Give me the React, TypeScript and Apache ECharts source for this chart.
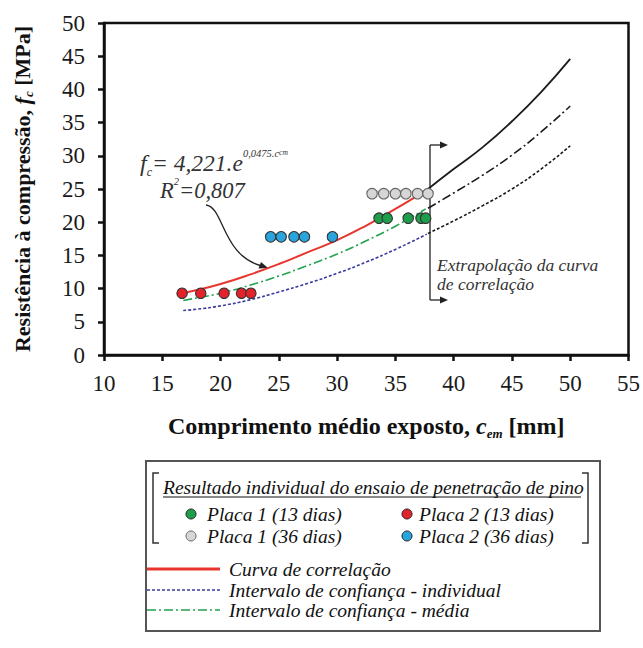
import React, { useEffect, useRef } from 'react';
import * as echarts from 'echarts';

// ---- Data ----
const placa1_13: number[][] = [[33.6, 20.6], [34.3, 20.6], [36.1, 20.6], [37.2, 20.6], [37.6, 20.6]];
const placa2_13: number[][] = [[16.7, 9.3], [18.3, 9.3], [20.3, 9.3], [21.8, 9.3], [22.6, 9.3]];
const placa1_36: number[][] = [[33.0, 24.3], [34.0, 24.3], [35.0, 24.3], [35.9, 24.3], [36.9, 24.3], [37.8, 24.3]];
const placa2_36: number[][] = [[24.3, 17.8], [25.2, 17.8], [26.3, 17.8], [27.2, 17.8], [29.6, 17.8]];

const curvaCorrelacao: number[][] = [[16.6, 9.3], [18, 9.8], [20, 10.7], [22.5, 12.1], [25, 13.7], [27.5, 15.5], [30, 17.3], [32.5, 19.5], [35, 22.0], [36.8, 23.9]];
const curvaExtrap: number[][] = [[37.8, 25.0], [40, 28.0], [42.5, 31.3], [45, 35.2], [47.5, 39.6], [50, 44.6]];
const icMedia: number[][] = [[16.8, 8.2], [18, 8.6], [20, 9.3], [22.5, 10.5], [25, 11.9], [27.5, 13.5], [30, 15.2], [32.5, 17.2], [35, 19.4], [37.6, 22.0]];
const icMediaExtrap: number[][] = [[37.8, 22.1], [40, 24.4], [42.5, 27.1], [45, 30.1], [47.5, 33.6], [50, 37.5]];
const icIndividual: number[][] = [[16.8, 6.7], [18, 6.9], [20, 7.4], [22.5, 8.3], [25, 9.5], [27.5, 10.8], [30, 12.3], [32.5, 14.0], [35, 15.9], [37.7, 18.2]];
const icIndividualExtrap: number[][] = [[37.8, 18.3], [40, 20.2], [42.5, 22.5], [45, 25.0], [47.5, 28.0], [50, 31.5]];

const legendPoints = ['Placa 1 (13 dias)', 'Placa 2 (13 dias)', 'Placa 1 (36 dias)', 'Placa 2 (36 dias)'];
const legendLines = ['Curva de correlação', 'Intervalo de confiança - individual', 'Intervalo de confiança - média'];

const SERIF = 'Liberation Serif';
const C_GREEN = '#1e9e4a';
const C_RED = '#e3232b';
const C_GRAY = '#d6d6d6';
const C_BLUE = '#2aa4dc';
const C_REDLINE = '#e8362f';
const C_GREENLINE = '#23a24f';
const C_BLUELINE = '#3a3aa0';
const C_BLACK = '#1a1a1a';

const DASHDOT = [9, 3, 2, 3];
const DOTTED = [3, 2];

export default function App() {
  const ref = useRef<HTMLDivElement>(null);
  useEffect(() => {
    if (!ref.current) return;
    const chart = echarts.init(ref.current, undefined, { renderer: 'svg' });

    const lineSeries = (data: number[][], color: string, type: any, width: number) => ({
      type: 'line',
      data,
      smooth: true,
      symbol: 'none',
      showSymbol: false,
      silent: true,
      lineStyle: { color, width, type },
      z: 2,
    });
    const scatter = (name: string, data: number[][], color: string, border: string) => ({
      type: 'scatter',
      name,
      data,
      symbol: 'circle',
      symbolSize: 10.5,
      itemStyle: { color, borderColor: border, borderWidth: 1.1, opacity: 1 },
      z: 5,
    });

    const legText = (x: number, y: number, text: string, size = 19.5) => ({
      type: 'text',
      style: { x, y, text, fontFamily: SERIF, fontStyle: 'italic', fontSize: size, fill: '#111', textVerticalAlign: 'middle' },
    });

    const LX = 146, LR = 600;
    const legendG: any[] = [
      { type: 'rect', shape: { x: LX, y: 461, width: LR - LX, height: 170 }, style: { fill: '#fff', stroke: '#555', lineWidth: 2 } },
      { type: 'polyline', shape: { points: [[159, 473], [153, 473], [153, 543], [159, 543]] }, style: { stroke: '#333', lineWidth: 1.5, fill: null } },
      { type: 'polyline', shape: { points: [[582, 473], [588, 473], [588, 543], [582, 543]] }, style: { stroke: '#333', lineWidth: 1.5, fill: null } },
      legText(163, 487, 'Resultado individual do ensaio de penetração de pino'),
      { type: 'line', shape: { x1: 163, y1: 497, x2: 581, y2: 497 }, style: { stroke: '#111', lineWidth: 1 } },
      { type: 'circle', shape: { cx: 191, cy: 514, r: 5 }, style: { fill: C_GREEN, stroke: '#222', lineWidth: 1 } },
      legText(207, 514, legendPoints[0]),
      { type: 'circle', shape: { cx: 407, cy: 514, r: 5 }, style: { fill: C_RED, stroke: '#222', lineWidth: 1 } },
      legText(419, 514, legendPoints[1]),
      { type: 'circle', shape: { cx: 191, cy: 536, r: 5 }, style: { fill: C_GRAY, stroke: '#666', lineWidth: 1 } },
      legText(207, 536, legendPoints[2]),
      { type: 'circle', shape: { cx: 407, cy: 536, r: 5 }, style: { fill: C_BLUE, stroke: '#222', lineWidth: 1 } },
      legText(419, 536, legendPoints[3]),
      { type: 'line', shape: { x1: LX + 1, y1: 569, x2: 220, y2: 569 }, style: { stroke: C_REDLINE, lineWidth: 3 } },
      legText(229, 569, legendLines[0]),
      { type: 'line', shape: { x1: LX + 1, y1: 590, x2: 220, y2: 590 }, style: { stroke: C_BLUELINE, lineWidth: 1.5, lineDash: DOTTED } },
      legText(229, 590, legendLines[1]),
      { type: 'line', shape: { x1: LX + 1, y1: 610, x2: 220, y2: 610 }, style: { stroke: C_GREENLINE, lineWidth: 1.5, lineDash: DASHDOT } },
      legText(229, 610, legendLines[2]),
    ];

    const ri = (size: number, extra: any = {}) => ({ fontFamily: SERIF, fontStyle: 'italic', fontSize: size, fill: '#333', ...extra });
    const annotG: any[] = [
      {
        type: 'text',
        style: {
          x: 140, y: 163, textVerticalAlign: 'middle',
          text: '{f|f}{sub|c}{m|= 4,221.e}{sup|0,0475.c}{supsub|cm}',
          fill: '#333', fontFamily: SERIF,
          rich: {
            f: ri(24, { lineHeight: 30 }),
            sub: ri(12, { verticalAlign: 'bottom', lineHeight: 14 }),
            m: ri(23.5, { lineHeight: 30 }),
            sup: ri(10.5, { verticalAlign: 'top', lineHeight: 12 }),
            supsub: ri(7.5, { verticalAlign: 'top', lineHeight: 22 }),
          },
        },
      },
      {
        type: 'text',
        style: {
          x: 160, y: 190, textVerticalAlign: 'middle',
          text: '{m|R}{sup|2}{m|=0,807}',
          fill: '#333', fontFamily: SERIF,
          rich: {
            m: ri(22.5, { lineHeight: 28 }),
            sup: ri(10.5, { verticalAlign: 'top', lineHeight: 14 }),
          },
        },
      },
      { type: 'bezierCurve', shape: { x1: 206, y1: 205, cpx1: 224, cpy1: 207, cpx2: 222, cpy2: 256, x2: 262, y2: 266 }, style: { stroke: '#222', lineWidth: 1.3, fill: null } },
      { type: 'polygon', shape: { points: [[268, 268], [258.5, 268.5], [261, 262]] }, style: { fill: '#222' } },
      { type: 'line', shape: { x1: 430, y1: 145, x2: 430, y2: 300 }, style: { stroke: '#222', lineWidth: 1.3 } },
      { type: 'line', shape: { x1: 430, y1: 145, x2: 442, y2: 145 }, style: { stroke: '#222', lineWidth: 1.3 } },
      { type: 'polygon', shape: { points: [[448, 145], [440, 141.5], [440, 148.5]] }, style: { fill: '#222' } },
      { type: 'line', shape: { x1: 430, y1: 300, x2: 442, y2: 300 }, style: { stroke: '#222', lineWidth: 1.3 } },
      { type: 'polygon', shape: { points: [[448, 300], [440, 296.5], [440, 303.5]] }, style: { fill: '#222' } },
      { type: 'text', style: { x: 437, y: 265, text: 'Extrapolação da curva', ...ri(17.5), textVerticalAlign: 'middle' } },
      { type: 'text', style: { x: 437, y: 284, text: 'de correlação', ...ri(17.5), textVerticalAlign: 'middle' } },
    ];

    chart.setOption({
      animation: false,
      backgroundColor: '#fff',
      textStyle: { fontFamily: SERIF },
      grid: { left: 104, right: 13, top: 23, bottom: 293, show: true, borderColor: '#111', borderWidth: 2.5, backgroundColor: 'transparent' },
      xAxis: {
        type: 'value', min: 10, max: 55, interval: 5,
        splitLine: { show: false },
        axisLine: { show: true, onZero: false, lineStyle: { color: '#111', width: 2.5 } },
        axisTick: { show: true, inside: false, length: 6, lineStyle: { color: '#111', width: 2.5 } },
        axisLabel: { margin: 17, color: '#1a1a1a', fontSize: 23, fontFamily: SERIF },
        name: 'Comprimento médio exposto, {i|c}{sub|em} [mm]',
        nameLocation: 'middle',
        nameGap: 57,
        nameTextStyle: {
          fontFamily: SERIF, fontSize: 24, fontWeight: 'bold', color: '#111', lineHeight: 28,
          rich: {
            i: { fontFamily: SERIF, fontSize: 24, fontWeight: 'bold', fontStyle: 'italic', color: '#111', lineHeight: 28 },
            sub: { fontFamily: SERIF, fontSize: 13, fontWeight: 'bold', fontStyle: 'italic', color: '#111', verticalAlign: 'bottom', lineHeight: 20 },
          },
        },
      },
      yAxis: {
        type: 'value', min: 0, max: 50, interval: 5,
        splitLine: { show: false },
        axisLine: { show: true, onZero: false, lineStyle: { color: '#111', width: 2.5 } },
        axisTick: { show: true, inside: false, length: 6, lineStyle: { color: '#111', width: 2.5 } },
        axisLabel: { margin: 19, color: '#1a1a1a', fontSize: 23, fontFamily: SERIF },
        name: 'Resistência à compressão, {i|f}{sub|c} [MPa]',
        nameLocation: 'middle',
        nameRotate: 90,
        nameGap: 69,
        nameTextStyle: {
          fontFamily: SERIF, fontSize: 22, fontWeight: 'bold', color: '#111', lineHeight: 26,
          rich: {
            i: { fontFamily: SERIF, fontSize: 22, fontWeight: 'bold', fontStyle: 'italic', color: '#111', lineHeight: 26 },
            sub: { fontFamily: SERIF, fontSize: 13, fontWeight: 'bold', fontStyle: 'italic', color: '#111', verticalAlign: 'bottom', lineHeight: 20 },
          },
        },
      },
      series: [
        lineSeries(icIndividual, C_BLUELINE, DOTTED, 1.6),
        lineSeries(icIndividualExtrap, C_BLACK, DOTTED, 1.6),
        lineSeries(icMedia, C_GREENLINE, DASHDOT, 1.6),
        lineSeries(icMediaExtrap, C_BLACK, DASHDOT, 1.6),
        lineSeries(curvaCorrelacao, C_REDLINE, 'solid', 2),
        lineSeries(curvaExtrap, C_BLACK, 'solid', 1.8),
        scatter(legendPoints[2], placa1_36, C_GRAY, '#666'),
        scatter(legendPoints[3], placa2_36, C_BLUE, '#333'),
        scatter(legendPoints[0], placa1_13, C_GREEN, '#333'),
        scatter(legendPoints[1], placa2_13, C_RED, '#333'),
      ],
      graphic: [...annotG, ...legendG],
    });
    return () => chart.dispose();
  }, []);
  return <div ref={ref} style={{ position: 'fixed', left: 0, top: 0, width: 643, height: 648 }} />;
}
